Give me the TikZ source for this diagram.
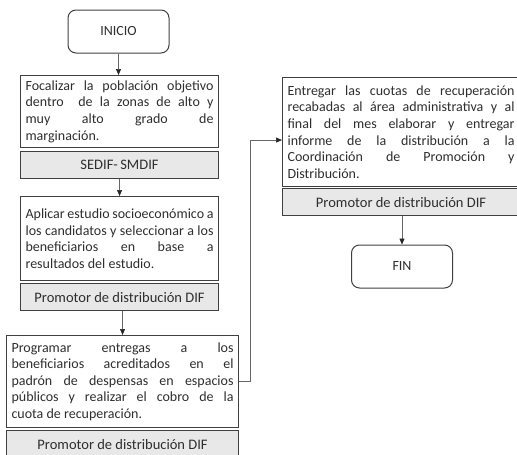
\documentclass[tikz,border=0pt]{standalone}
\usepackage{fontspec}
\setmainfont{Carlito}
\usetikzlibrary{arrows.meta}
\tikzset{
  procbox/.style={draw=black!75,line width=1.1pt,anchor=north west,align=justify,inner xsep=5pt,
    font=\fontsize{14}{16.6}\selectfont,text=black!82},
  rolebox/.style={draw=black!75,line width=1.1pt,fill=black!9,anchor=north west,align=center,
    font=\fontsize{14.5}{17}\selectfont,text=black!82},
  endbox/.style={draw=black!75,line width=1pt,rounded corners=8pt,minimum width=101pt,
    minimum height=43pt,font=\fontsize{14}{17}\selectfont,text=black!82},
  link/.style={draw=black!60,line width=0.7pt,-{Triangle[length=6pt,width=5pt,color=black!85]}}
}
\begin{document}
\begin{tikzpicture}[x=1pt,y=-1pt]
  \useasboundingbox (0,0) rectangle (517,455);
  \hyphenpenalty=10000
  % left column
  \node[endbox] (inicio) at (118.5,31.5) {INICIO};
  \node[procbox,text width=188pt,minimum height=72pt] (focalizar) at (20,75)
    {Focalizar la población objetivo\linebreak dentro\ \ de la zonas de alto y\linebreak
     muy alto grado de\linebreak marginación.};
  \node[rolebox,minimum width=198pt,minimum height=27pt] (sedif) at (20,151) {SEDIF-\,SMDIF};
  \node[procbox,text width=188pt,minimum height=84pt] (aplicar) at (20,196)
    {Aplicar estudio socioeconómico a\linebreak los candidatos y seleccionar a los\linebreak
     beneficiarios en base a\linebreak resultados del estudio.};
  \node[rolebox,minimum width=198pt,minimum height=27pt] (promotorA) at (20,283)
    {Promotor de distribución DIF};
  \node[procbox,text width=222pt,minimum height=92pt] (programar) at (6,335)
    {Programar entregas a los\linebreak beneficiarios acreditados en el\linebreak
     padrón de despensas en espacios\linebreak públicos y realizar el cobro de la\linebreak
     cuota de recuperación.};
  \node[rolebox,minimum width=232pt,minimum height=28pt] (promotorB) at (6,430)
    {Promotor de distribución DIF};
  % right column
  \node[procbox,text width=227pt,minimum height=109pt] (entregar) at (282,77)
    {Entregar las cuotas de recuperación\linebreak recabadas al área administrativa y al\linebreak
     final del mes elaborar y entregar\linebreak informe de la distribución a la\linebreak
     Coordinación de Promoción y\linebreak Distribución.};
  \node[rolebox,minimum width=237pt,minimum height=27pt] (promotorC) at (282,188)
    {Promotor de distribución DIF};
  \node[endbox] (fin) at (402,266.5) {FIN};
  % connectors
  \draw[link] (inicio) -- (inicio |- focalizar.north);
  \draw[link] (sedif) -- (sedif |- aplicar.north);
  \draw[link] ([xshift=3pt]promotorA.south) -- ([xshift=3pt]promotorA.south |- programar.north);
  \draw[link] (programar.east) -- ++(11,0) |- ([yshift=-8pt]entregar.west);
  \draw[link] (fin |- promotorC.south) -- (fin);
\end{tikzpicture}
\end{document}
